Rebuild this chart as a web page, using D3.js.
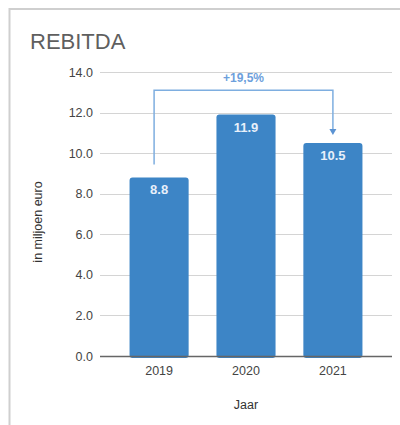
<!DOCTYPE html>
<html>
<head>
<meta charset="utf-8">
<script src="https://cdn.jsdelivr.net/npm/d3@7"></script>
<style>
  body { margin: 0; background: #fff; }
  text { font-family: "Liberation Sans", Arial, sans-serif; }
</style>
</head>
<body>
<div id="chart"></div>
<script>
var years = ["2019", "2020", "2021"];
var values = [8.8, 11.9, 10.5];
var yTicks = [0, 2, 4, 6, 8, 10, 12, 14];
var growthLabel = "+19,5%";

var svgWidth = 400;
var svgHeight = 425;

var margin = { top: 72, right: 8, bottom: 69, left: 100 };
var chartWidth = svgWidth - margin.left - margin.right;
var chartHeight = svgHeight - margin.top - margin.bottom;
var fontStack = "'Liberation Sans', Arial, sans-serif";

var svg = d3.select("#chart")
    .append("svg")
    .attr("width", svgWidth)
    .attr("height", svgHeight);

// outer frame
svg.append("path")
    .attr("d", "M9.5,425 L9.5,9 L400,9")
    .attr("fill", "none")
    .attr("stroke", "#cfcfcf")
    .attr("stroke-width", 2);

svg.append("text")
    .attr("x", 30)
    .attr("y", 49)
    .attr("font-size", 22)
    .attr("fill", "#5f5f5f")
    .text("REBITDA");

var chart = svg.append("g")
    .attr("transform", `translate(${margin.left}, ${margin.top})`);

var xScale = d3.scaleBand()
    .domain(years)
    .range([0, chartWidth])
    .paddingInner(0.32)
    .paddingOuter(0.34);

var yScale = d3.scaleLinear()
    .domain([0, 14])
    .range([chartHeight, 0]);

// grid
chart.append("g")
    .selectAll("line")
    .data(yTicks)
    .enter()
    .append("line")
    .attr("x1", 0)
    .attr("x2", chartWidth)
    .attr("y1", d => Math.round(yScale(d)) + 0.5)
    .attr("y2", d => Math.round(yScale(d)) + 0.5)
    .attr("stroke", "#d4d4d4")
    .attr("stroke-width", 1);

// y axis labels
var yAxis = d3.axisLeft(yScale)
    .tickValues(yTicks)
    .tickFormat(d3.format(".1f"))
    .tickSize(0)
    .tickPadding(7);

chart.append("g")
    .call(yAxis)
    .call(g => g.select(".domain").remove())
    .call(g => g.selectAll("text").attr("font-size", 12.5).attr("fill", "#444")
        .attr("font-family", fontStack));

// bars
var bars = chart.selectAll(".bar")
    .data(values)
    .enter()
    .append("g");

bars.append("rect")
    .attr("x", (d, i) => xScale(years[i]))
    .attr("y", d => yScale(d))
    .attr("width", xScale.bandwidth())
    .attr("height", d => chartHeight - yScale(d) + 2)
    .attr("rx", 3)
    .attr("fill", "#3d85c6");

bars.append("text")
    .attr("x", (d, i) => xScale(years[i]) + xScale.bandwidth() / 2)
    .attr("y", d => yScale(d) + 17)
    .attr("text-anchor", "middle")
    .attr("font-size", 13)
    .attr("font-weight", "bold")
    .attr("fill", "#e8f0fa")
    .text(d => d.toFixed(1));

// baseline
chart.append("line")
    .attr("x1", 0)
    .attr("x2", chartWidth)
    .attr("y1", chartHeight + 0.5)
    .attr("y2", chartHeight + 0.5)
    .attr("stroke", "#666")
    .attr("stroke-width", 1.5);

// x axis labels
var xAxis = d3.axisBottom(xScale).tickSize(0).tickPadding(10);
chart.append("g")
    .attr("transform", `translate(0, ${chartHeight})`)
    .call(xAxis)
    .call(g => g.select(".domain").remove())
    .call(g => g.selectAll("text").attr("font-size", 12.5).attr("fill", "#444")
        .attr("font-family", fontStack));

// axis titles
svg.append("text")
    .attr("x", margin.left + chartWidth / 2)
    .attr("y", 409)
    .attr("text-anchor", "middle")
    .attr("font-size", 12.5)
    .attr("fill", "#333")
    .text("Jaar");

svg.append("text")
    .attr("transform", "translate(38, 222) rotate(-90)")
    .attr("text-anchor", "middle")
    .attr("dy", "0.35em")
    .attr("font-size", 12.5)
    .attr("fill", "#333")
    .text("in miljoen euro");

// growth annotation
var x0 = xScale(years[0]) + xScale.bandwidth() / 2 - 5;
var x1 = xScale(years[2]) + xScale.bandwidth() / 2;
var topY = yScale(13.1);
var startY = yScale(values[0]) - 13;
var endY = yScale(values[2]) - 8;

chart.append("path")
    .attr("d", `M${x0},${startY} L${x0},${topY} L${x1},${topY} L${x1},${endY - 5}`)
    .attr("fill", "none")
    .attr("stroke", "#7eaee0")
    .attr("stroke-width", 1.5);

chart.append("path")
    .attr("d", `M${x1 - 3.5},${endY - 6} L${x1 + 3.5},${endY - 6} L${x1},${endY} Z`)
    .attr("fill", "#5b93d3");

chart.append("text")
    .attr("x", (x0 + x1) / 2)
    .attr("y", topY - 8)
    .attr("text-anchor", "middle")
    .attr("font-size", 12)
    .attr("font-weight", "bold")
    .attr("fill", "#6d9fdc")
    .text(growthLabel);
</script>
</body>
</html>
